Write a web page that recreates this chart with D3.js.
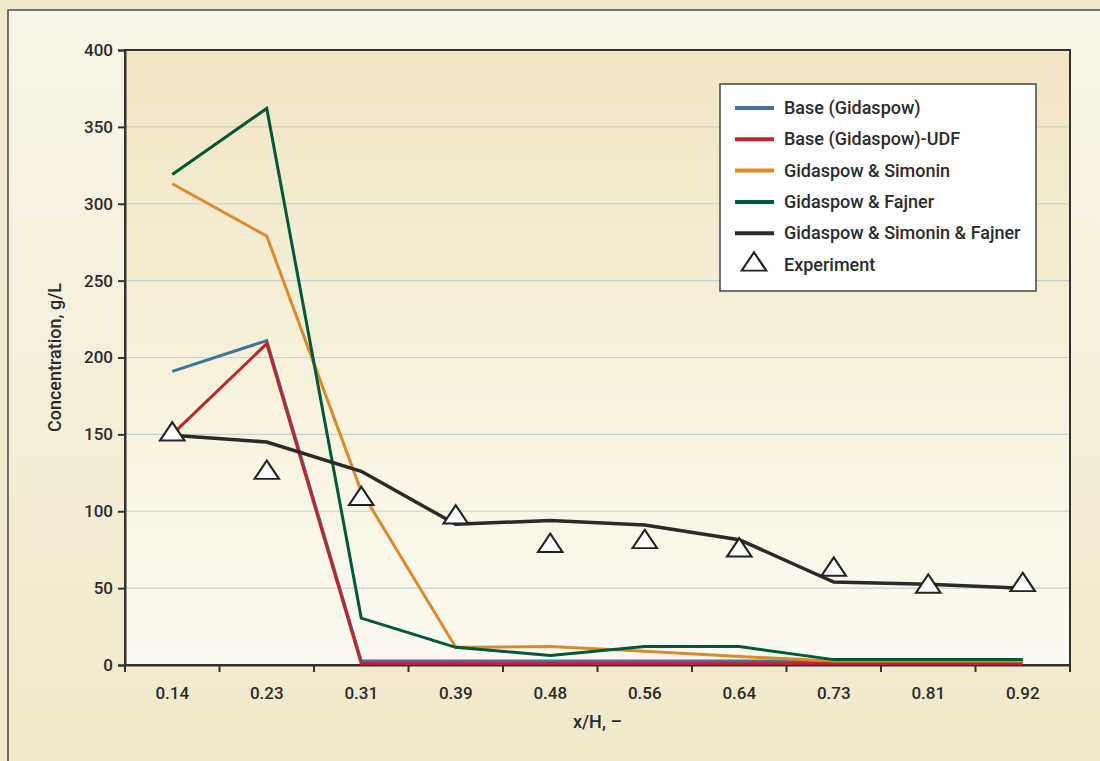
<!DOCTYPE html>
<html>
<head>
<meta charset="utf-8">
<script src="https://cdn.jsdelivr.net/npm/d3@7"></script>
<style>
  body { margin: 0; background: #f2e9cc; }
  text { font-family: "Roboto", "DejaVu Sans Condensed", sans-serif; font-weight: 500; fill: #2b2b2b; }
</style>
</head>
<body>
<svg></svg>
<script>
// chart size
const width = 1100;
const height = 761;

// data
const categories = ["0.14", "0.23", "0.31", "0.39", "0.48", "0.56", "0.64", "0.73", "0.81", "0.92"];
const baseGidaspow = [191, 211, 2.6, 2.6, 2.6, 2.6, 2.6, 2.6, 2.6, 2.6];
const baseGidaspowUDF = [150, 209, 1, 1, 1, 1, 1, 1, 1, 1];
const gidaspowSimonin = [313, 279, 113, 11.5, 12, 9, 5.5, 2.6, 2.6, 2.6];
const gidaspowFajner = [319, 362, 30.5, 11.5, 6.2, 12, 12, 3.5, 3.5, 3.5];
const gidaspowSimoninFajner = [149.5, 145, 126, 91.5, 94, 91, 81.5, 54, 52.5, 50];
const experiment = [150, 125, 108, 96, 77.5, 80, 74.5, 62, 51, 52];
const yTicks = [0, 50, 100, 150, 200, 250, 300, 350, 400];

const seriesNames = ["Base (Gidaspow)", "Base (Gidaspow)-UDF", "Gidaspow & Simonin", "Gidaspow & Fajner", "Gidaspow & Simonin & Fajner"];
const seriesColors = ["#3f7398", "#b8282d", "#d98b2b", "#00583a", "#2b2a29"];
const seriesValues = [baseGidaspow, baseGidaspowUDF, gidaspowSimonin, gidaspowFajner, gidaspowSimoninFajner];

const margin = {top: 50, right: 30, bottom: 96, left: 125};

const svg = d3.select("svg")
  .attr("width", width)
  .attr("height", height);

//gradients
const defs = svg.append("defs");
const outerGrad = defs.append("linearGradient").attr("id", "outerGrad")
  .attr("x1", 0).attr("y1", 0).attr("x2", 0).attr("y2", 1);
outerGrad.append("stop").attr("offset", "0%").attr("stop-color", "#f8f5e8");
outerGrad.append("stop").attr("offset", "100%").attr("stop-color", "#f2e8ca");
const plotGrad = defs.append("linearGradient").attr("id", "plotGrad")
  .attr("x1", 0).attr("y1", 0).attr("x2", 0).attr("y2", 1);
plotGrad.append("stop").attr("offset", "0%").attr("stop-color", "#f1e6c3");
plotGrad.append("stop").attr("offset", "100%").attr("stop-color", "#fcfaf1");

//outer frame
svg.append("rect")
  .attr("width", width).attr("height", height)
  .attr("fill", "#f2e9cc");
svg.append("rect")
  .attr("x", 8).attr("y", 10)
  .attr("width", width + 20).attr("height", height + 20)
  .attr("fill", "url(#outerGrad)")
  .attr("stroke", "#4a4a4a").attr("stroke-width", 1.5);

//scales
const x = d3.scaleBand()
  .domain(categories)
  .range([margin.left, width - margin.right]);
const y = d3.scaleLinear()
  .domain([0, 400])
  .range([height - margin.bottom, margin.top]);

//plot area
svg.append("rect")
  .attr("x", margin.left).attr("y", margin.top)
  .attr("width", x.range()[1] - margin.left)
  .attr("height", y(0) - margin.top)
  .attr("fill", "url(#plotGrad)");

//gridlines
svg.append("g")
  .selectAll("line")
  .data(yTicks.filter(d => d > 0 && d < 400))
  .enter().append("line")
  .attr("x1", margin.left).attr("x2", x.range()[1])
  .attr("y1", d => y(d)).attr("y2", d => y(d))
  .attr("stroke", "#c6d2cf").attr("stroke-width", 1.2);

//plot border
svg.append("rect")
  .attr("x", margin.left).attr("y", margin.top)
  .attr("width", x.range()[1] - margin.left)
  .attr("height", y(0) - margin.top)
  .attr("fill", "none")
  .attr("stroke", "#333").attr("stroke-width", 2);

//axes
const yAxis = svg.append("g")
  .attr("transform", `translate(${margin.left},0)`)
  .call(d3.axisLeft(y).tickValues(yTicks).tickSize(7).tickPadding(5));
yAxis.select(".domain").attr("stroke", "#333").attr("stroke-width", 2);
yAxis.selectAll(".tick line").attr("stroke", "#333").attr("stroke-width", 2);
yAxis.selectAll(".tick text").style("font-size", "17px").attr("fill", "#2b2b2b");

const xAxis = svg.append("g")
  .attr("transform", `translate(0,${y(0)})`)
  .call(d3.axisBottom(x).tickSize(0).tickPadding(22));
xAxis.select(".domain").attr("stroke", "#333").attr("stroke-width", 2);
xAxis.selectAll(".tick text").style("font-size", "17px").attr("fill", "#2b2b2b");

//x tick marks on category boundaries
svg.append("g")
  .selectAll("line")
  .data(categories.concat(["end"]))
  .enter().append("line")
  .attr("x1", (d, i) => margin.left + i * x.step())
  .attr("x2", (d, i) => margin.left + i * x.step())
  .attr("y1", y(0)).attr("y2", y(0) + 7)
  .attr("stroke", "#333").attr("stroke-width", 2);

//axis titles
svg.append("text")
  .attr("x", (margin.left + x.range()[1]) / 2)
  .attr("y", 728)
  .attr("text-anchor", "middle")
  .style("font-size", "18px")
  .text("x/H, \u2013");
svg.append("text")
  .attr("transform", `translate(61,${(margin.top + y(0)) / 2}) rotate(-90)`)
  .attr("text-anchor", "middle")
  .style("font-size", "18px")
  .text("Concentration, g/L");

//lines
const line = d3.line()
  .x((d, i) => x(categories[i]) + x.bandwidth() / 2)
  .y(d => y(d));

seriesValues.forEach((vals, k) => {
  svg.append("path")
    .datum(vals)
    .attr("d", line)
    .attr("fill", "none")
    .attr("stroke", seriesColors[k])
    .attr("stroke-width", k === 4 ? 3.5 : 3)
    .attr("stroke-linejoin", "miter");
});

//experiment markers
const tri = d3.symbol().type(d3.symbolTriangle).size(215);
svg.append("g")
  .selectAll("path")
  .data(experiment)
  .enter().append("path")
  .attr("d", tri)
  .attr("transform", (d, i) => `translate(${x(categories[i]) + x.bandwidth() / 2},${y(d)}) scale(1.1,0.95)`)
  .attr("fill", "#fff")
  .attr("stroke", "#222")
  .attr("stroke-width", 2);

//legend
const legend = svg.append("g").attr("transform", "translate(720,84)");
legend.append("rect")
  .attr("width", 316).attr("height", 207)
  .attr("fill", "#fff")
  .attr("stroke", "#444").attr("stroke-width", 1.5);

seriesNames.forEach((name, k) => {
  const ly = 24 + k * 31.3;
  legend.append("line")
    .attr("x1", 15).attr("x2", 54)
    .attr("y1", ly).attr("y2", ly)
    .attr("stroke", seriesColors[k]).attr("stroke-width", 4);
  legend.append("text")
    .attr("x", 64).attr("y", ly + 6)
    .style("font-size", "18px")
    .text(name);
});
const ey = 24 + 5 * 31.3;
legend.append("path")
  .attr("d", tri)
  .attr("transform", `translate(34,${ey}) scale(1.1,0.95)`)
  .attr("fill", "#fff").attr("stroke", "#222").attr("stroke-width", 2);
legend.append("text")
  .attr("x", 64).attr("y", ey + 6)
  .style("font-size", "18px")
  .text("Experiment");
</script>
</body>
</html>
